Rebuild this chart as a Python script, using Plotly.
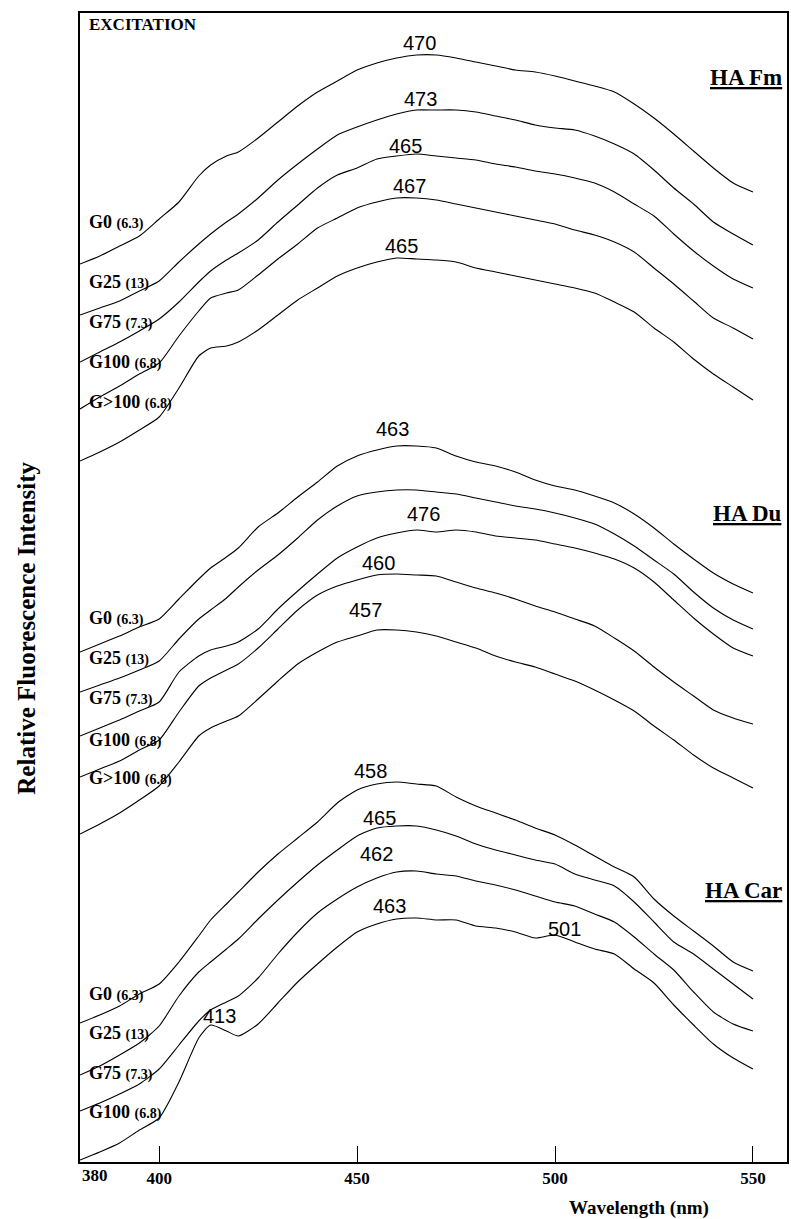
import plotly.graph_objects as go

# Wavelength grid (nm)
WL = [380, 385, 390, 395, 400, 405, 410, 413, 417, 420, 425, 430, 435, 440, 445, 450,
      455, 460, 465, 470, 475, 480, 485, 490, 495, 500, 505, 510, 515, 520, 525, 530,
      535, 540, 545, 550]

# Relative fluorescence intensity (arbitrary, stacked/offset units)
FM_G0 = [898, 906, 916, 926, 943, 960, 986, 997, 1006, 1010, 1024, 1040, 1056, 1070, 1081, 1092,
         1099, 1104, 1107, 1107, 1104, 1100, 1096, 1092, 1090, 1086, 1081, 1076, 1070, 1058, 1044, 1028,
         1011, 994, 979, 970]
FM_G25 = [847, 854, 861, 871, 881, 900, 918, 928, 940, 948, 964, 982, 998, 1013, 1027, 1035,
          1042, 1048, 1052, 1052, 1052, 1050, 1046, 1042, 1037, 1034, 1032, 1026, 1018, 1008, 992, 974,
          958, 940, 928, 917]
FM_G75 = [800, 810, 820, 831, 843, 860, 880, 891, 902, 909, 922, 940, 957, 974, 987, 994,
          1003, 1006, 1008, 1006, 1004, 1002, 998, 995, 991, 988, 984, 979, 970, 958, 946, 928,
          911, 896, 883, 874]
FM_G100 = [753, 765, 776, 788, 799, 826, 851, 864, 869, 872, 887, 903, 918, 934, 944, 954,
           960, 964, 964, 962, 958, 954, 950, 946, 942, 938, 932, 927, 920, 910, 894, 878,
           861, 844, 834, 823]
FM_GX100 = [701, 710, 720, 732, 745, 774, 806, 814, 816, 820, 832, 847, 862, 874, 886, 894,
            900, 904, 903, 902, 900, 894, 890, 886, 882, 878, 874, 869, 860, 850, 834, 820,
            803, 788, 775, 762]

DU_G0 = [510, 518, 526, 535, 543, 563, 583, 594, 605, 614, 635, 649, 665, 680, 696, 706,
         712, 716, 716, 714, 706, 700, 696, 690, 682, 676, 672, 666, 659, 648, 634, 618,
         603, 589, 578, 569]
DU_G25 = [470, 477, 484, 492, 501, 523, 543, 552, 564, 575, 592, 607, 624, 642, 656, 666,
          670, 672, 672, 670, 668, 664, 660, 656, 653, 649, 644, 638, 628, 616, 602, 588,
          570, 554, 542, 533]
DU_G75 = [426, 434, 442, 451, 460, 490, 506, 512, 516, 520, 533, 553, 571, 588, 604, 615,
          624, 629, 632, 630, 632, 630, 626, 624, 622, 618, 614, 609, 603, 594, 580, 562,
          544, 528, 514, 506]
DU_G100 = [385, 393, 401, 412, 422, 450, 476, 484, 492, 498, 514, 533, 552, 567, 576, 582,
           587, 588, 587, 586, 580, 574, 569, 563, 556, 550, 543, 536, 524, 511, 495, 480,
           466, 452, 444, 438]
DU_GX100 = [328, 338, 349, 362, 376, 400, 426, 434, 441, 446, 463, 481, 498, 510, 520, 526,
            532, 532, 530, 526, 520, 514, 506, 500, 495, 488, 481, 472, 462, 451, 436, 422,
            407, 394, 384, 374]

CAR_G0 = [139, 147, 156, 168, 178, 200, 226, 242, 258, 270, 290, 308, 324, 340, 359, 372,
          378, 380, 378, 376, 365, 356, 349, 342, 334, 327, 317, 306, 295, 285, 263, 246,
          231, 216, 200, 191]
CAR_G25 = [87, 96, 107, 119, 136, 166, 190, 200, 213, 223, 243, 262, 280, 297, 312, 326,
           334, 336, 336, 332, 326, 318, 312, 307, 302, 298, 288, 282, 276, 260, 240, 220,
           208, 193, 178, 163]
CAR_G75 = [51, 59, 68, 78, 93, 117, 141, 152, 160, 166, 184, 208, 230, 249, 263, 275,
           284, 290, 291, 288, 286, 281, 277, 272, 266, 260, 256, 248, 240, 225, 208, 192,
           170, 150, 138, 131]
CAR_G100 = [2, 10, 19, 32, 44, 80, 124, 137, 131, 126, 138, 159, 180, 198, 215, 230,
            238, 243, 244, 242, 242, 236, 234, 230, 224, 227, 220, 213, 208, 193, 179, 157,
            137, 118, 104, 93]

# Sample labels
SAMPLE_NAMES = ["G0", "G25", "G75", "G100", "G&gt;100"]
SAMPLE_PH = ["(6.3)", "(13)", "(7.3)", "(6.8)", "(6.8)"]
FM_LABEL_Y = [940, 880, 840, 800, 760]
DU_LABEL_Y = [544, 504, 464, 422, 384]
CAR_LABEL_Y = [168, 129, 89, 50]
LABEL_WL = 381.8

# Group titles
GROUP_TITLES = ["HA Fm", "HA Du", "HA Car"]
GROUP_TITLE_Y = [1085, 649, 272]
GROUP_TITLE_WL = 557.8

# Peak / feature labels
PEAK_TEXT = ["470", "473", "465", "467", "465",
             "463", "476", "460", "457",
             "458", "465", "462", "463", "413", "501"]
PEAK_WL = [465.8, 466.0, 462.2, 463.2, 461.3,
           459.0, 466.8, 455.5, 452.1,
           453.4, 455.7, 454.9, 458.3, 415.3, 502.3]
PEAK_I = [1119, 1063, 1016, 976, 916,
          733, 648, 599, 552,
          391, 344, 308, 256, 146, 233]

X_TICKS = [400, 450, 500, 550]

SERIF = "Liberation Serif, Times New Roman, serif"
SANS = "Liberation Sans, Arial, sans-serif"

fig = go.Figure()

groups = [
    ("HA Fm", [FM_G0, FM_G25, FM_G75, FM_G100, FM_GX100]),
    ("HA Du", [DU_G0, DU_G25, DU_G75, DU_G100, DU_GX100]),
    ("HA Car", [CAR_G0, CAR_G25, CAR_G75, CAR_G100]),
]
for gname, series in groups:
    for i, ys in enumerate(series):
        fig.add_trace(go.Scatter(
            x=WL, y=ys, mode="lines",
            name=f"{gname} {SAMPLE_NAMES[i]}",
            line=dict(color="black", width=1.1, shape="spline", smoothing=0.6),
            showlegend=False, hoverinfo="skip",
        ))

annotations = []
for ys_list in (FM_LABEL_Y, DU_LABEL_Y, CAR_LABEL_Y):
    for i, yv in enumerate(ys_list):
        annotations.append(dict(
            x=LABEL_WL, y=yv, xref="x", yref="y",
            text=f"<b>{SAMPLE_NAMES[i]} <span style='font-size:14px'>{SAMPLE_PH[i]}</span></b>",
            showarrow=False, xanchor="left", yanchor="middle",
            font=dict(family=SERIF, size=18, color="black"),
        ))

for t, yv in zip(GROUP_TITLES, GROUP_TITLE_Y):
    annotations.append(dict(
        x=GROUP_TITLE_WL, y=yv, xref="x", yref="y",
        text=f"<b>{t}</b>", showarrow=False, xanchor="right", yanchor="middle",
        font=dict(family=SERIF, size=23, color="black", lineposition="under"),
    ))

for t, xv, yv in zip(PEAK_TEXT, PEAK_WL, PEAK_I):
    annotations.append(dict(
        x=xv, y=yv, xref="x", yref="y", text=t, showarrow=False,
        xanchor="center", yanchor="middle",
        font=dict(family=SANS, size=20, color="black"),
    ))

annotations += [
    dict(x=0.010, y=0.990, xref="paper", yref="paper", text="<b>EXCITATION</b>",
         showarrow=False, xanchor="left", yanchor="middle",
         font=dict(family=SERIF, size=17, color="black")),
    dict(x=380, y=-0.0115, xref="x", yref="paper", text="<b>380</b>",
         showarrow=False, xanchor="left", yanchor="middle",
         font=dict(family=SERIF, size=17, color="black")),
    dict(x=0.79, y=-0.040, xref="paper", yref="paper", text="<b>Wavelength (nm)</b>",
         showarrow=False, xanchor="center", yanchor="middle",
         font=dict(family=SERIF, size=19, color="black")),
    dict(x=-0.075, y=0.465, xref="paper", yref="paper",
         text="<b>Relative Fluorescence Intensity</b>",
         showarrow=False, xanchor="center", yanchor="middle", textangle=-90,
         font=dict(family=SERIF, size=25, color="black")),
]

fig.update_layout(
    width=791, height=1219,
    margin=dict(l=80, r=2, t=13, b=57),
    paper_bgcolor="white", plot_bgcolor="white",
    annotations=annotations,
    showlegend=False,
)
fig.update_xaxes(
    range=[380, 558.6], tickvals=X_TICKS, ticktext=[f"<b>{v}</b>" for v in X_TICKS],
    ticks="inside", ticklen=16, tickwidth=1, tickcolor="black",
    tickfont=dict(family=SERIF, size=17, color="black"),
    showline=True, linecolor="black", linewidth=1.5, mirror=True,
    showgrid=False, zeroline=False,
)
fig.update_yaxes(
    range=[0, 1149], showticklabels=False, ticks="",
    showline=True, linecolor="black", linewidth=1.5, mirror=True,
    showgrid=False, zeroline=False,
)

fig.write_html(
    "out.html",
    config={"displayModeBar": False},
    post_script="document.body.style.margin='0';document.documentElement.style.overflow='hidden';document.body.style.overflow='hidden';",
)
